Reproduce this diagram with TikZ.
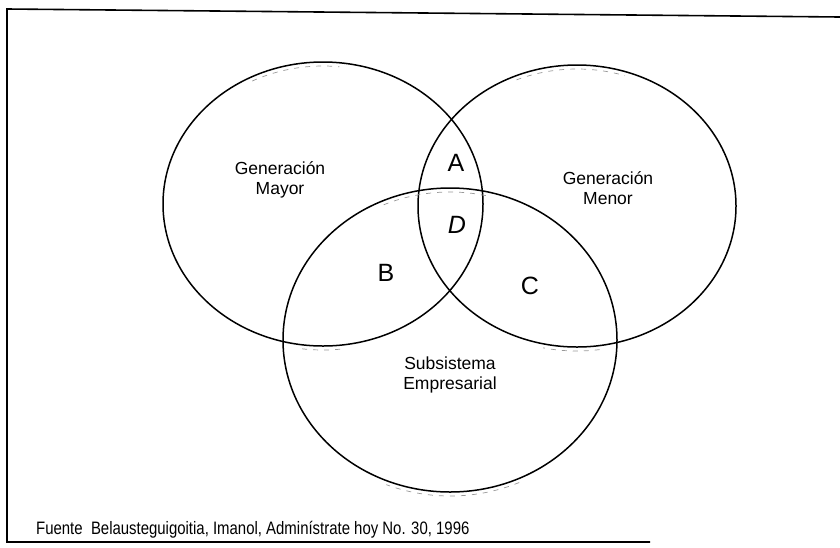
\documentclass[tikz,border=0pt]{standalone}
\usepackage{fontspec}
\setmainfont{Liberation Sans}
\usetikzlibrary{shapes.geometric}
\begin{document}
\begin{tikzpicture}[x=1pt,y=-1pt,
  ring/.style={draw, ellipse, line width=1.5pt, inner sep=0pt},
  lbl/.style={font=\fontsize{17.5}{20}\selectfont, align=center, inner sep=0pt},
  big/.style={font=\fontsize{25}{27}\selectfont, inner sep=0pt},
  frame/.style={line width=1.6pt},
  scan/.style={draw=black!40, line width=0.7pt, dash pattern=on 5pt off 6pt}]
\useasboundingbox (0,0) rectangle (840,547);
% three overlapping systems
\node[ring, minimum width=320pt, minimum height=284pt] (mayor) at (323,204) {};
\node[ring, minimum width=318pt, minimum height=282pt] (menor) at (577,206) {};
\node[ring, minimum width=334pt, minimum height=304pt] (empresa) at (450,340) {};
% faint printing traces along the rims (inside at the tops, outside at the bottoms)
\draw[scan] (mayor.center) ++(243:156 and 138) arc[start angle=243, end angle=276, x radius=156, y radius=138];
\draw[scan] (menor.center) ++(247:155 and 137) arc[start angle=247, end angle=288, x radius=155, y radius=137];
\draw[scan] (empresa.center) ++(246:163 and 148) arc[start angle=246, end angle=284, x radius=163, y radius=148];
\draw[scan] (empresa.center) ++(66:170 and 156) arc[start angle=66, end angle=112, x radius=170, y radius=156];
\draw[scan] (mayor.center) ++(84:164 and 146) arc[start angle=84, end angle=98, x radius=164, y radius=146];
\draw[scan] (menor.center) ++(82:163 and 145) arc[start angle=82, end angle=102, x radius=163, y radius=145];
% circle labels
\node[lbl] (tmayor) at (280,180) {Generación\\Mayor};
\node[lbl] (tmenor) at (608,188) {Generación\\Menor};
\node[lbl] (tempresa) at (450,375) {Subsistema\\Empresarial};
% overlap regions
\node[big] (ra) at (456,163) {A};
\node[big] (rd) at (457,225) {\textit{D}};
\node[big] (rb) at (386,273) {B};
\node[big] (rc) at (530,286) {C};
% frame
\coordinate (tl) at (7,9);
\coordinate (tr) at (840,17);
\coordinate (bl) at (7,542);
\coordinate (br) at (650,542);
\draw[frame] (tr) -- (tl) -- (bl) -- (br);
% source line
\node[anchor=base west, inner sep=0pt, font=\fontsize{18}{20}\selectfont] (src) at (36,534)
  {\scalebox{0.83}[1]{Fuente\ \ Belausteguigoitia, Imanol, Adminístrate hoy No. 30, 1996}};
\end{tikzpicture}
\end{document}
